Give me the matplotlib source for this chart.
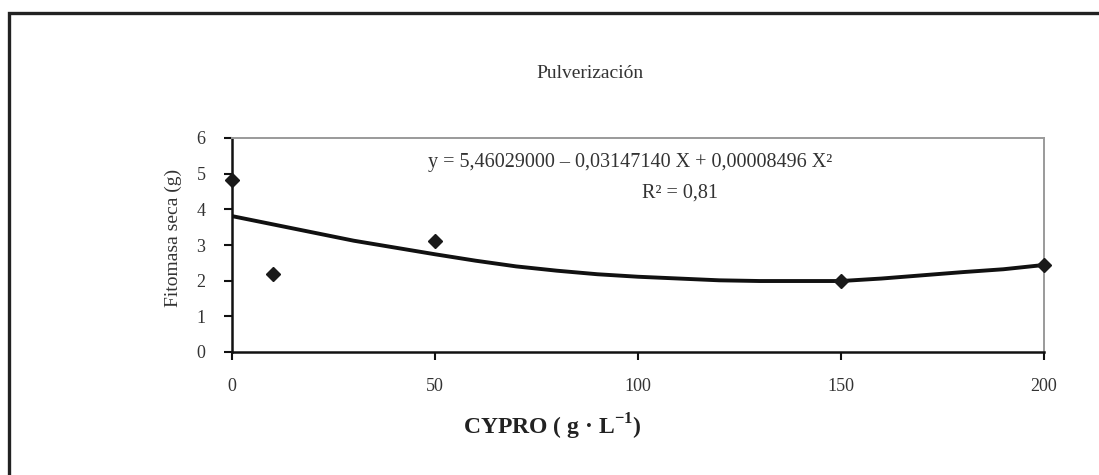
import matplotlib
matplotlib.use("Agg")
import matplotlib.pyplot as plt
from matplotlib.lines import Line2D

# observed points
dose = [0, 10, 50, 150, 200]
biomass = [4.81, 2.18, 3.10, 1.99, 2.44]

fit_x = [0, 10, 20, 30, 40, 50, 60, 70, 80, 90, 100,
         110, 120, 130, 140, 150, 160, 170, 180, 190, 200]
fit_y = [3.81, 3.58, 3.35, 3.12, 2.93, 2.74, 2.56, 2.40, 2.28, 2.18, 2.11,
         2.06, 2.01, 1.99, 1.99, 1.99, 2.06, 2.15, 2.24, 2.32, 2.44]

x_ticks = [0, 50, 100, 150, 200]
y_ticks = [0, 1, 2, 3, 4, 5, 6]

SERIF = ["Liberation Serif", "DejaVu Serif"]
plt.rcParams["font.family"] = SERIF
plt.rcParams["mathtext.fontset"] = "custom"
plt.rcParams["mathtext.rm"] = "Liberation Serif"
plt.rcParams["mathtext.bf"] = "Liberation Serif:bold"
TXT = "#333333"

fig = plt.figure(figsize=(10.99, 4.75), dpi=100)
ax = fig.add_axes([232 / 1099, 1 - 352 / 475, (1044 - 232) / 1099, (352 - 138) / 475])

ax.plot(fit_x, fit_y, color="#111111", lw=2.8, solid_capstyle="butt", zorder=2)
ax.plot(dose, biomass, linestyle="none", marker="D", ms=7, color="#1a1a1a", zorder=3,
        clip_on=False)

ax.set_xlim(0, 200)
ax.set_ylim(0, 6)
ax.set_xticks(x_ticks)
ax.set_yticks(y_ticks)
ax.tick_params(axis="both", direction="out", length=6, width=1.5, color="#111111",
               labelsize=13, labelcolor=TXT)
ax.tick_params(axis="x", pad=13)
ax.tick_params(axis="y", pad=13)

for side in ("left", "bottom"):
    ax.spines[side].set_color("#111111")
    ax.spines[side].set_linewidth(1.8)
for side in ("top", "right"):
    ax.spines[side].set_color("#9a9a9a")
    ax.spines[side].set_linewidth(1.4)

ax.set_ylabel("Fitomasa seca (g)", fontsize=14, color=TXT)
ax.yaxis.set_label_coords(-0.061, 0.535)
fig.text(552 / 1099, 1 - 427 / 475, r"CYPRO ( g · L$^{\mathbf{-1}}$)", fontsize=17,
         fontweight="bold", color="#222222", ha="center", va="center")

fig.text(590 / 1099, 1 - 73 / 475, "Pulverización", fontsize=14, color=TXT,
         ha="center", va="center")
fig.text(630 / 1099, 1 - 163 / 475,
         "y = 5,46029000 – 0,03147140 X + 0,00008496 X²", fontsize=14.5,
         color=TXT, ha="center", va="center")
fig.text(680 / 1099, 1 - 193 / 475, "R² = 0,81", fontsize=14.5, color=TXT,
         ha="center", va="center")

# outer frame (left and top edges visible)
fx, fy = 8.5 / 1099, 1 - 12.5 / 475
fig.add_artist(Line2D([fx, fx, 1.0], [0.0, fy, fy], transform=fig.transFigure,
                      color="#222222", lw=2.4, solid_joinstyle="miter"))

fig.savefig("out.png", dpi=100)
